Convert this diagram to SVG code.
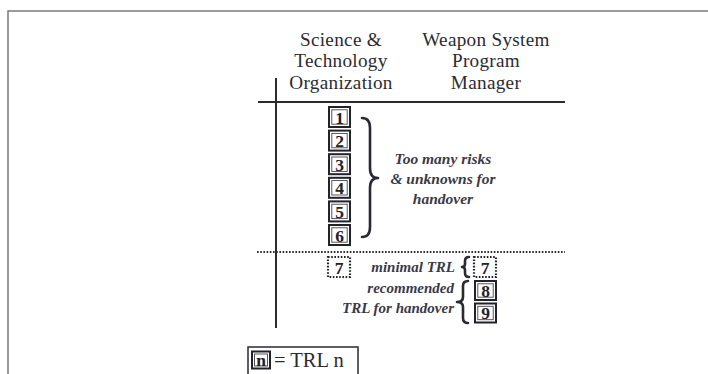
<svg xmlns="http://www.w3.org/2000/svg" width="708" height="374" viewBox="0 0 708 374">
<defs>
<style>
.hdr{font-family:"Liberation Serif","Times New Roman",serif;font-size:19.2px;letter-spacing:0.3px;fill:#2b2b33;text-anchor:middle}
.note{font-family:"Liberation Serif","Times New Roman",serif;font-style:italic;font-weight:bold;font-size:15.5px;fill:#3a3a46}
.lbl{font-family:"Liberation Serif","Times New Roman",serif;font-style:italic;font-weight:bold;font-size:15px;fill:#3a3a46;text-anchor:end}
.num{font-family:"Liberation Serif","Times New Roman",serif;font-weight:bold;font-size:17.5px;fill:#22222a;text-anchor:middle}
.bo{fill:#fff;stroke:#22222a;stroke-width:2}
.bi{fill:none;stroke:#44444c;stroke-width:0.9}
.dot{fill:#fff;stroke:#22222a;stroke-width:2.2;stroke-dasharray:1.6 1.6}
.ax{stroke:#2a2a30;stroke-width:2;fill:none}
.brace{fill:none;stroke:#2a2a33;stroke-width:2.6;stroke-linecap:round;stroke-linejoin:round}
</style>
</defs>
<rect width="708" height="374" fill="#fff"/>
<g id="frame" fill="none" stroke="#7a7a7a" stroke-width="1.5">
<path d="M8,374 V11 H708"/>
</g>
<g id="connectors">
<line class="ax" x1="276" y1="78" x2="276" y2="328"/>
<line class="ax" x1="258" y1="102" x2="565" y2="102"/>
<line class="ax" x1="257" y1="252" x2="565" y2="252" stroke-dasharray="1.6 1.6"/>
<path class="brace" d="M362,118 Q370,118 370,128 L370,168 Q370,178 378,178 Q370,178 370,188 L370,227 Q370,237 362,237"/>
<path class="brace" stroke-width="2" d="M469,257 Q465,257 465,261 L465,264 Q465,267 462,267 Q465,267 465,270 L465,273 Q465,277 469,277"/>
<path class="brace" d="M468,281 Q463,281 463,286 L463,297 Q463,302 457,302 Q463,302 463,307 L463,318 Q463,323 468,323"/>
</g>
<g id="header-st">
<text class="hdr" x="341" y="45.5">Science &amp;</text>
<text class="hdr" x="341" y="67">Technology</text>
<text class="hdr" x="341" y="88.5">Organization</text>
</g>
<g id="header-pm">
<text class="hdr" x="486" y="45.5">Weapon System</text>
<text class="hdr" x="486" y="67">Program</text>
<text class="hdr" x="486" y="88.5">Manager</text>
</g>
<g id="trl1"><rect class="bo" x="329" y="107" width="21" height="20"/><rect class="bi" x="331.8" y="109.8" width="15.4" height="14.4"/><text class="num" x="339.5" y="123.5">1</text></g>
<g id="trl2"><rect class="bo" x="329" y="130.6" width="21" height="20"/><rect class="bi" x="331.8" y="133.4" width="15.4" height="14.4"/><text class="num" x="339.5" y="147.1">2</text></g>
<g id="trl3"><rect class="bo" x="329" y="154.2" width="21" height="20"/><rect class="bi" x="331.8" y="157" width="15.4" height="14.4"/><text class="num" x="339.5" y="170.7">3</text></g>
<g id="trl4"><rect class="bo" x="329" y="177.8" width="21" height="20"/><rect class="bi" x="331.8" y="180.6" width="15.4" height="14.4"/><text class="num" x="339.5" y="194.3">4</text></g>
<g id="trl5"><rect class="bo" x="329" y="201.4" width="21" height="20"/><rect class="bi" x="331.8" y="204.2" width="15.4" height="14.4"/><text class="num" x="339.5" y="217.9">5</text></g>
<g id="trl6"><rect class="bo" x="329" y="225" width="21" height="20"/><rect class="bi" x="331.8" y="227.8" width="15.4" height="14.4"/><text class="num" x="339.5" y="241.5">6</text></g>
<g id="risk-note">
<text class="note" x="443" y="164" text-anchor="middle">Too many risks</text>
<text class="note" x="443" y="184" text-anchor="middle">&amp; unknowns for</text>
<text class="note" x="443" y="204" text-anchor="middle">handover</text>
</g>
<g id="trl7-st"><rect class="dot" x="328" y="257" width="22" height="20"/><text class="num" x="339" y="273.5">7</text></g>
<g id="minimal"><text class="lbl" x="455" y="272">minimal TRL</text></g>
<g id="trl7-pm"><rect class="dot" x="474" y="257" width="22" height="20"/><text class="num" x="485" y="273.5">7</text></g>
<g id="recommended">
<text class="lbl" x="454" y="293">recommended</text>
<text class="lbl" x="454" y="313">TRL for handover</text>
</g>
<g id="trl8"><rect class="bo" x="475" y="281" width="21" height="19"/><rect class="bi" x="477.8" y="283.8" width="15.4" height="13.4"/><text class="num" x="485.5" y="296.5">8</text></g>
<g id="trl9"><rect class="bo" x="475" y="303.5" width="21" height="19"/><rect class="bi" x="477.8" y="306.3" width="15.4" height="13.4"/><text class="num" x="485.5" y="319">9</text></g>
<g id="legend">
<rect x="248" y="347" width="110" height="30" fill="#fff" stroke="#2a2a30" stroke-width="1.5"/>
<rect class="bo" x="252" y="351.5" width="18" height="17"/><rect class="bi" x="254.5" y="354" width="13" height="12"/>
<text class="num" x="261" y="365.5">n</text>
<text x="274" y="367" font-family="'Liberation Serif','Times New Roman',serif" font-size="20.5" fill="#2b2b33">= TRL n</text>
</g>
</svg>
